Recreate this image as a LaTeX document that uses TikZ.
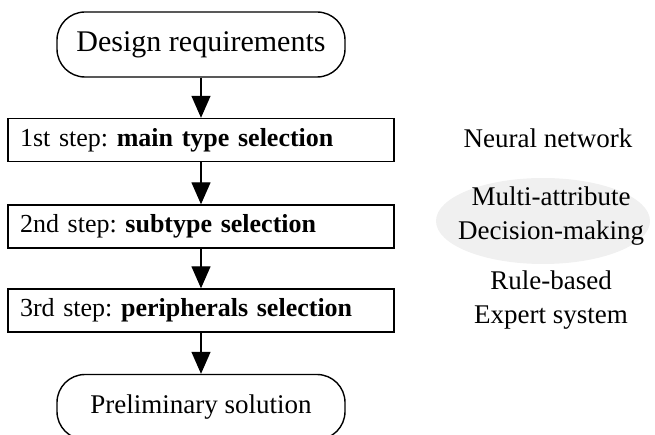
\documentclass[tikz,border=0pt]{standalone}
\usepackage{fontspec}
\setmainfont{Liberation Serif}
\usetikzlibrary{arrows.meta,positioning}
\frenchspacing

\begin{document}
\begin{tikzpicture}[
  x=1pt,y=-1pt,
  >={Triangle[width=19pt,length=22pt]},
  font=\fontsize{27}{34}\selectfont,
  line width=1.4pt,
  endbox/.style={draw,rounded corners=28pt,minimum width=288pt,minimum height=65pt,inner sep=0pt},
  stepbox/.style={draw,font=\fontsize{26}{32}\selectfont,minimum width=386pt,minimum height=43pt,text width=362pt,align=left,inner xsep=12pt,inner ysep=0pt},
  methodtext/.style={align=center}
]
\useasboundingbox (0,0) rectangle (655,435);

% Flow of the three selection steps.
\node[endbox,font=\fontsize{30}{36}\selectfont] (req) at (201,44.5) {Design requirements};
\node[stepbox] (main) at (201,140) {1st step: \textbf{main type selection}};
\node[stepbox] (sub) at (201,226.5) {2nd step: \textbf{subtype selection}};
\node[stepbox] (peri) at (201,310.5) {3rd step: \textbf{peripherals selection}};
\node[endbox] (sol) at (201,407) {Preliminary solution};

\draw[->] (req) -- (main);
\draw[->] (main) -- (sub);
\draw[->] (sub) -- (peri);
\draw[->] (peri) -- (sol);

% Methods used in each step.
\fill[black!6] (543,221) ellipse[x radius=107pt,y radius=43pt];
\node (nn) at (548,138) {Neural network};
\node[methodtext] (mad) at (551,216) {Multi-attribute\\Decision-making};
\node[methodtext] (rbes) at (551,300) {Rule-based\\Expert system};
\end{tikzpicture}
\end{document}
